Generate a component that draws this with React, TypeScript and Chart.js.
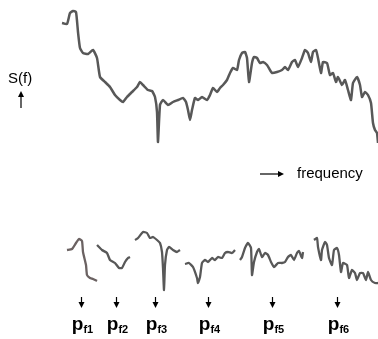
import React, { useEffect, useRef } from "react";
import { Chart, registerables } from "chart.js";

Chart.register(...registerables);

// Full spectrum S(f): frequency index and magnitude
const specFreq = [0,5,8,11,14,16,18,21,26,31,35,38,43,48,53,58,61,65,70,75,78,81,86,90,93,95,96,98,101,106,111,116,121,124,126,128,130,133,136,140,145,148,151,155,158,161,165,168,171,175,177,180,183,185,187,190,192,195,198,201,205,208,210,215,220,223,226,230,233,236,240,243,246,249,251,254,256,259,261,265,268,271,274,276,280,283,286,289,291,295,298,300,303,306,309,311,313,315,316];
const specValue = [
  127,126,137,139,138,118,102,97,96,100,
  92,73,68,63,55,50,48,53,58,63,
  68,65,60,59,53,38,8,45,50,45,
  48,50,52,48,40,30,40,52,50,53,
  50,55,62,58,62,65,70,77,82,80,
  90,97,98,92,68,87,93,92,87,88,
  85,80,77,78,80,83,80,88,90,83,
  92,100,97,88,98,100,92,77,88,87,
  75,77,68,73,65,70,60,50,67,73,
  65,53,58,55,47,27,20,17,7,
];

// Six extracted spectral patches p_f1 .. p_f6 (position index, magnitude)
const p1Freq = [5,10,14,17,20,21,24,25,28,31,35];
const p1Value = [50,51,57,61,59,48,35,25,22,21,19];
const p2Freq = [35,40,45,48,53,57,60,63,66,68];
const p2Value = [55,50,47,40,37,32,32,38,42,43];
const p3Freq = [73,76,81,85,88,91,95,98,100,101,102,103,105,107,111,115,118];
const p3Value = [60,62,68,67,62,63,60,57,48,32,10,35,50,53,50,48,50];
const p4Freq = [123,127,131,135,136,138,140,143,146,150,153,156,160,163,166,170,173];
const p4Value = [36,37,33,22,17,23,37,40,38,42,40,43,42,47,48,47,50];
const p5Freq = [178,180,183,186,189,190,192,195,197,200,203,206,209,212,216,220,223,226,229,232,235,237,240,241];
const p5Value = [40,43,52,57,52,25,38,48,51,43,47,45,38,33,37,37,38,43,45,40,47,49,42,48];
const p6Freq = [252,255,256,259,260,263,265,267,270,272,275,277,279,281,285,287,290,293,295,298,301,304,306,309,313,316];
const p6Value = [60,62,53,40,50,58,55,42,35,50,52,45,28,37,35,22,30,27,20,27,27,20,28,20,17,17];

// Arrow / label positions (position index) and label subscripts
const labelPos = [19, 54, 93, 146, 210, 275];
const labelSubs = ["f1", "f2", "f3", "f4", "f5", "f6"];

const LINE = "#585858";

function drawArrowHead(ctx: CanvasRenderingContext2D, x: number, y: number, dir: "up" | "down" | "right") {
  ctx.beginPath();
  if (dir === "down") {
    ctx.moveTo(x - 3, y - 6);
    ctx.lineTo(x + 3, y - 6);
    ctx.lineTo(x, y);
  } else if (dir === "up") {
    ctx.moveTo(x - 3, y + 6);
    ctx.lineTo(x + 3, y + 6);
    ctx.lineTo(x, y);
  } else {
    ctx.moveTo(x - 6, y - 3);
    ctx.lineTo(x - 6, y + 3);
    ctx.lineTo(x, y);
  }
  ctx.closePath();
  ctx.fill();
}

const annotationPlugin = {
  id: "annotations",
  afterDraw(chart: any) {
    const ctx: CanvasRenderingContext2D = chart.ctx;
    const xs = chart.scales.x;
    ctx.save();
    ctx.fillStyle = "#000";
    ctx.strokeStyle = "#000";
    ctx.lineWidth = 1.2;

    // S(f) label with up arrow
    ctx.font = '15px "Liberation Sans", Arial, sans-serif';
    ctx.textBaseline = "alphabetic";
    ctx.textAlign = "left";
    ctx.fillText("S(f)", 8, 83);
    ctx.beginPath();
    ctx.moveTo(21, 108);
    ctx.lineTo(21, 96);
    ctx.stroke();
    drawArrowHead(ctx, 21, 91, "up");

    // frequency label with right arrow
    ctx.beginPath();
    ctx.moveTo(260, 174);
    ctx.lineTo(278, 174);
    ctx.stroke();
    drawArrowHead(ctx, 284, 174, "right");
    ctx.fillText("frequency", 297, 178);

    // down arrows and p_f labels
    labelPos.forEach((pos, i) => {
      const x = Math.round(xs.getPixelForValue(pos)) + 0.5;
      ctx.beginPath();
      ctx.moveTo(x, 297);
      ctx.lineTo(x, 303);
      ctx.stroke();
      drawArrowHead(ctx, x, 308, "down");

      ctx.font = 'bold 19px "Liberation Sans", Arial, sans-serif';
      const wp = ctx.measureText("p").width;
      ctx.font = 'bold 11px "Liberation Sans", Arial, sans-serif';
      const ws = ctx.measureText(labelSubs[i]).width;
      const left = x + 1 - (wp + ws) / 2;
      ctx.font = 'bold 19px "Liberation Sans", Arial, sans-serif';
      ctx.fillText("p", left, 330);
      ctx.font = 'bold 11px "Liberation Sans", Arial, sans-serif';
      ctx.fillText(labelSubs[i], left + wp, 333);
    });
    ctx.restore();
  },
};

function toPoints(xs: number[], ys: number[]) {
  const n = Math.min(xs.length, ys.length);
  const pts: { x: number; y: number }[] = [];
  for (let i = 0; i < n; i++) pts.push({ x: xs[i], y: ys[i] });
  return pts;
}

export default function App() {
  const ref = useRef<HTMLCanvasElement | null>(null);

  useEffect(() => {
    if (!ref.current) return;
    const seg = (xs: number[], ys: number[], color = LINE) => ({
      data: toPoints(xs, ys),
      yAxisID: "yBot",
      borderColor: color,
      borderWidth: 2.3,
      pointRadius: 0,
      tension: 0.15,
      clip: false as any,
    });
    const chart = new Chart(ref.current, {
      type: "line",
      data: {
        datasets: [
          {
            data: toPoints(specFreq, specValue),
            yAxisID: "yTop",
            borderColor: LINE,
            borderWidth: 2.5,
            pointRadius: 0,
            tension: 0.15,
            clip: false as any,
          },
          seg(p1Freq, p1Value, "#6b6262"),
          seg(p2Freq, p2Value),
          seg(p3Freq, p3Value),
          seg(p4Freq, p4Value),
          seg(p5Freq, p5Value),
          seg(p6Freq, p6Value),
        ],
      },
      options: {
        responsive: false,
        animation: false,
        events: [],
        layout: { padding: { left: 62, right: 0, top: 0, bottom: 0 } },
        plugins: { legend: { display: false }, tooltip: { enabled: false } },
        scales: {
          x: { type: "linear", min: 0, max: 316, display: false },
          yTop: { type: "linear", min: -189, max: 150, display: false },
          yBot: { type: "linear", min: -39, max: 300, display: false },
        },
      },
      plugins: [annotationPlugin],
    });
    return () => chart.destroy();
  }, []);

  return (
    <div style={{ position: "absolute", left: 0, top: 0, width: 378, height: 339, background: "#fff" }}>
      <canvas ref={ref} width={378} height={339} style={{ width: 378, height: 339, display: "block" }} />
    </div>
  );
}
